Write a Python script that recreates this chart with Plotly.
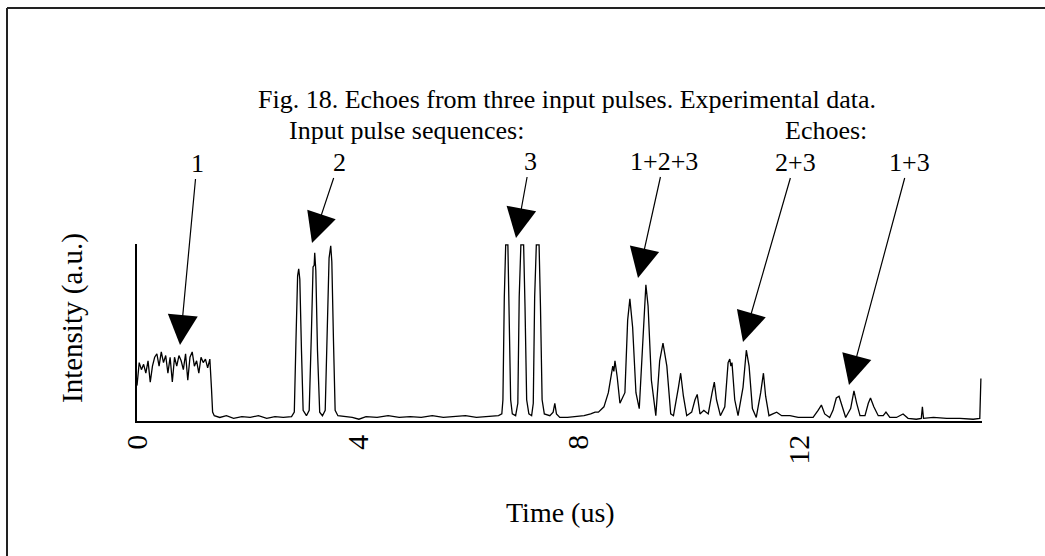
import plotly.graph_objects as go

# ---------------- data (time in us, intensity in a.u.) ----------------
plateau_t = [0.00, 0.04, 0.08, 0.12, 0.16, 0.20, 0.24, 0.28, 0.32, 0.36, 0.40, 0.44,
             0.48, 0.52, 0.56, 0.60, 0.64, 0.68, 0.72, 0.76, 0.80, 0.84, 0.88, 0.92,
             0.96, 1.00, 1.04, 1.08, 1.12, 1.16, 1.20, 1.24, 1.28, 1.32]
plateau_v = [0.20, 0.33, 0.29, 0.32, 0.27, 0.34, 0.22, 0.31, 0.36, 0.38, 0.31, 0.39,
             0.33, 0.37, 0.27, 0.36, 0.22, 0.36, 0.31, 0.37, 0.34, 0.29, 0.38, 0.23,
             0.36, 0.39, 0.31, 0.34, 0.27, 0.36, 0.33, 0.35, 0.30, 0.35]

base1_t = [1.35, 1.37, 1.40, 1.50, 1.62, 1.75, 1.90, 2.05, 2.20, 2.35, 2.50, 2.65, 2.80]
base1_v = [0.18, 0.05, 0.03, 0.02, 0.03, 0.015, 0.025, 0.02, 0.03, 0.015, 0.025, 0.02, 0.025]

pulse2_t = [2.85, 2.88, 2.91, 2.93, 2.95, 2.98, 3.01, 3.07, 3.12, 3.16, 3.19, 3.21, 3.22,
            3.24, 3.27, 3.31, 3.36, 3.41, 3.45, 3.48, 3.51, 3.53, 3.56, 3.59, 3.64]
pulse2_v = [0.05, 0.45, 0.82, 0.86, 0.80, 0.40, 0.06, 0.03, 0.06, 0.50, 0.87, 0.88, 0.95,
            0.85, 0.40, 0.05, 0.03, 0.06, 0.55, 0.92, 0.99, 0.90, 0.45, 0.06, 0.03]

base2_t = [3.75, 3.90, 4.02, 4.15, 4.35, 4.55, 4.75, 4.95, 5.15, 5.35, 5.55, 5.75, 5.95,
           6.15, 6.35, 6.55]
base2_v = [0.025, 0.02, 0.01, 0.025, 0.02, 0.03, 0.02, 0.025, 0.02, 0.03, 0.02, 0.025,
           0.03, 0.02, 0.025, 0.03]

pulse3_t = [6.61, 6.63, 6.655, 6.68, 6.72, 6.745, 6.77, 6.80, 6.86, 6.90, 6.925, 6.955,
            7.005, 7.03, 7.06, 7.10, 7.15, 7.18, 7.205, 7.235, 7.285, 7.31, 7.34, 7.38,
            7.48, 7.54, 7.57, 7.60, 7.66]
pulse3_v = [0.04, 0.12, 0.70, 0.995, 0.995, 0.65, 0.12, 0.04, 0.03, 0.10, 0.70, 0.995,
            0.995, 0.65, 0.12, 0.04, 0.03, 0.10, 0.70, 0.995, 0.995, 0.65, 0.12, 0.04,
            0.03, 0.05, 0.10, 0.04, 0.02]

base3_t = [7.80, 7.95, 8.10, 8.22, 8.30]
base3_v = [0.02, 0.025, 0.03, 0.04, 0.05]

echo_t = [8.36, 8.46, 8.54, 8.62, 8.64, 8.66, 8.70, 8.75, 8.84, 8.89, 8.93, 8.98, 9.04,
          9.10, 9.16, 9.22, 9.26, 9.32, 9.40, 9.47, 9.53, 9.60, 9.67, 9.72, 9.81, 9.85,
          9.90, 9.96, 10.05, 10.11, 10.15, 10.20, 10.27, 10.35, 10.42, 10.46, 10.50,
          10.57, 10.65, 10.71, 10.74, 10.76, 10.78, 10.83, 10.89, 10.98, 11.04, 11.09,
          11.15, 11.22, 11.30, 11.35, 11.39, 11.45, 11.52, 11.59, 11.68, 11.83, 11.98]
echo_v = [0.05, 0.08, 0.16, 0.31, 0.28, 0.34, 0.25, 0.10, 0.16, 0.57, 0.69, 0.53, 0.16,
          0.07, 0.42, 0.77, 0.65, 0.23, 0.03, 0.34, 0.44, 0.31, 0.04, 0.03, 0.19, 0.27,
          0.14, 0.03, 0.05, 0.12, 0.15, 0.04, 0.06, 0.04, 0.16, 0.22, 0.12,
          0.03, 0.08, 0.33, 0.35, 0.31, 0.33, 0.12, 0.03, 0.19, 0.40, 0.31,
          0.07, 0.02, 0.16, 0.27, 0.14, 0.03, 0.04, 0.05, 0.03, 0.03, 0.02]

tail_t = [12.10, 12.25, 12.34, 12.40, 12.46, 12.55, 12.61, 12.67, 12.72, 12.77, 12.84,
          12.93, 12.99, 13.04, 13.10, 13.19, 13.25, 13.29, 13.35, 13.43, 13.52, 13.57,
          13.64, 13.76, 13.88, 13.97, 14.12, 14.21, 14.23, 14.25, 14.43, 14.67, 14.91,
          15.15, 15.27, 15.29]
tail_v = [0.02, 0.02, 0.06, 0.09, 0.04, 0.02, 0.06, 0.13, 0.14, 0.09, 0.02,
          0.07, 0.17, 0.10, 0.03, 0.03, 0.10, 0.13, 0.08, 0.03, 0.03, 0.05,
          0.02, 0.02, 0.04, 0.015, 0.01, 0.015, 0.08, 0.015, 0.02, 0.015, 0.015,
          0.01, 0.015, 0.24]

x_ticks = [0, 4, 8, 12]
x_tick_labels = ["0", "4", "8", "12"]

title_text = "Fig. 18. Echoes from three input pulses. Experimental data."
group_labels = ["Input pulse sequences:", "Echoes:"]
arrow_labels = ["1", "2", "3", "1+2+3", "2+3", "1+3"]

# ---------------- figure ----------------
t_all = plateau_t + base1_t + pulse2_t + base2_t + pulse3_t + base3_t + echo_t + tail_t
v_all = plateau_v + base1_v + pulse2_v + base2_v + pulse3_v + base3_v + echo_v + tail_v

W, H = 1045, 556
L, R, T, B = 137, 63, 244, 135
PW, PH = W - L - R, H - T - B


def px(x):
    return (x - L) / PW


def py(y):
    return (H - B - y) / PH


FONT = "Liberation Serif, Times New Roman, serif"


def text_ann(text, x, y, size, **kw):
    d = dict(text=text, x=px(x), y=py(y), xref="paper", yref="paper",
             xanchor="center", yanchor="middle", showarrow=False,
             font=dict(size=size, family=FONT, color="black"))
    d.update(kw)
    return d


fig = go.Figure()
fig.add_trace(go.Scatter(x=t_all, y=v_all, mode="lines",
                         line=dict(color="black", width=1.3), hoverinfo="skip"))

annotations = [
    text_ann(title_text, 567, 99, 26),
    text_ann(group_labels[0], 406, 130, 26),
    text_ann(group_labels[1], 826, 130, 26),
    text_ann("Time (us)", 560, 512, 28),
    text_ann("Intensity (a.u.)", 72, 318, 29, textangle=-90),
]

# arrow tips (pixel) and label centres (pixel)
tips = [(180, 345), (312, 243), (516, 238), (638, 278), (743, 342), (849, 385)]
label_pos = [(197, 163), (339, 162), (530, 161), (664, 161), (795, 162), (909, 162)]
for lab, (tx, ty), (lx, ly) in zip(arrow_labels, tips, label_pos):
    annotations.append(dict(
        text=lab, x=px(tx), y=py(ty), xref="paper", yref="paper",
        ax=lx - tx, ay=ly - ty, showarrow=True, arrowhead=2, arrowsize=5,
        arrowwidth=1.2, arrowcolor="black",
        font=dict(size=26, family=FONT, color="black")))

shapes = [
    dict(type="line", xref="paper", yref="paper", x0=px(7), y0=py(8), x1=px(7), y1=py(H + 5),
         line=dict(color="#222", width=2)),
    dict(type="line", xref="paper", yref="paper", x0=px(7), y0=py(8), x1=px(W + 5), y1=py(8),
         line=dict(color="#222", width=2)),
]

fig.update_layout(
    width=W, height=H,
    margin=dict(l=L, r=R, t=T, b=B, pad=0),
    paper_bgcolor="white", plot_bgcolor="white",
    showlegend=False,
    annotations=annotations,
    shapes=shapes,
    xaxis=dict(range=[0, 15.31], showgrid=False, zeroline=False, showline=True,
               linecolor="black", linewidth=1.5, ticks="",
               tickvals=x_ticks, ticktext=x_tick_labels, tickangle=-90,
               tickfont=dict(size=30, family=FONT, color="black")),
    yaxis=dict(range=[0, 1.0], showgrid=False, zeroline=False, showline=True,
               linecolor="black", linewidth=1.5, ticks="", showticklabels=False),
)

fig.write_html("out.html")
